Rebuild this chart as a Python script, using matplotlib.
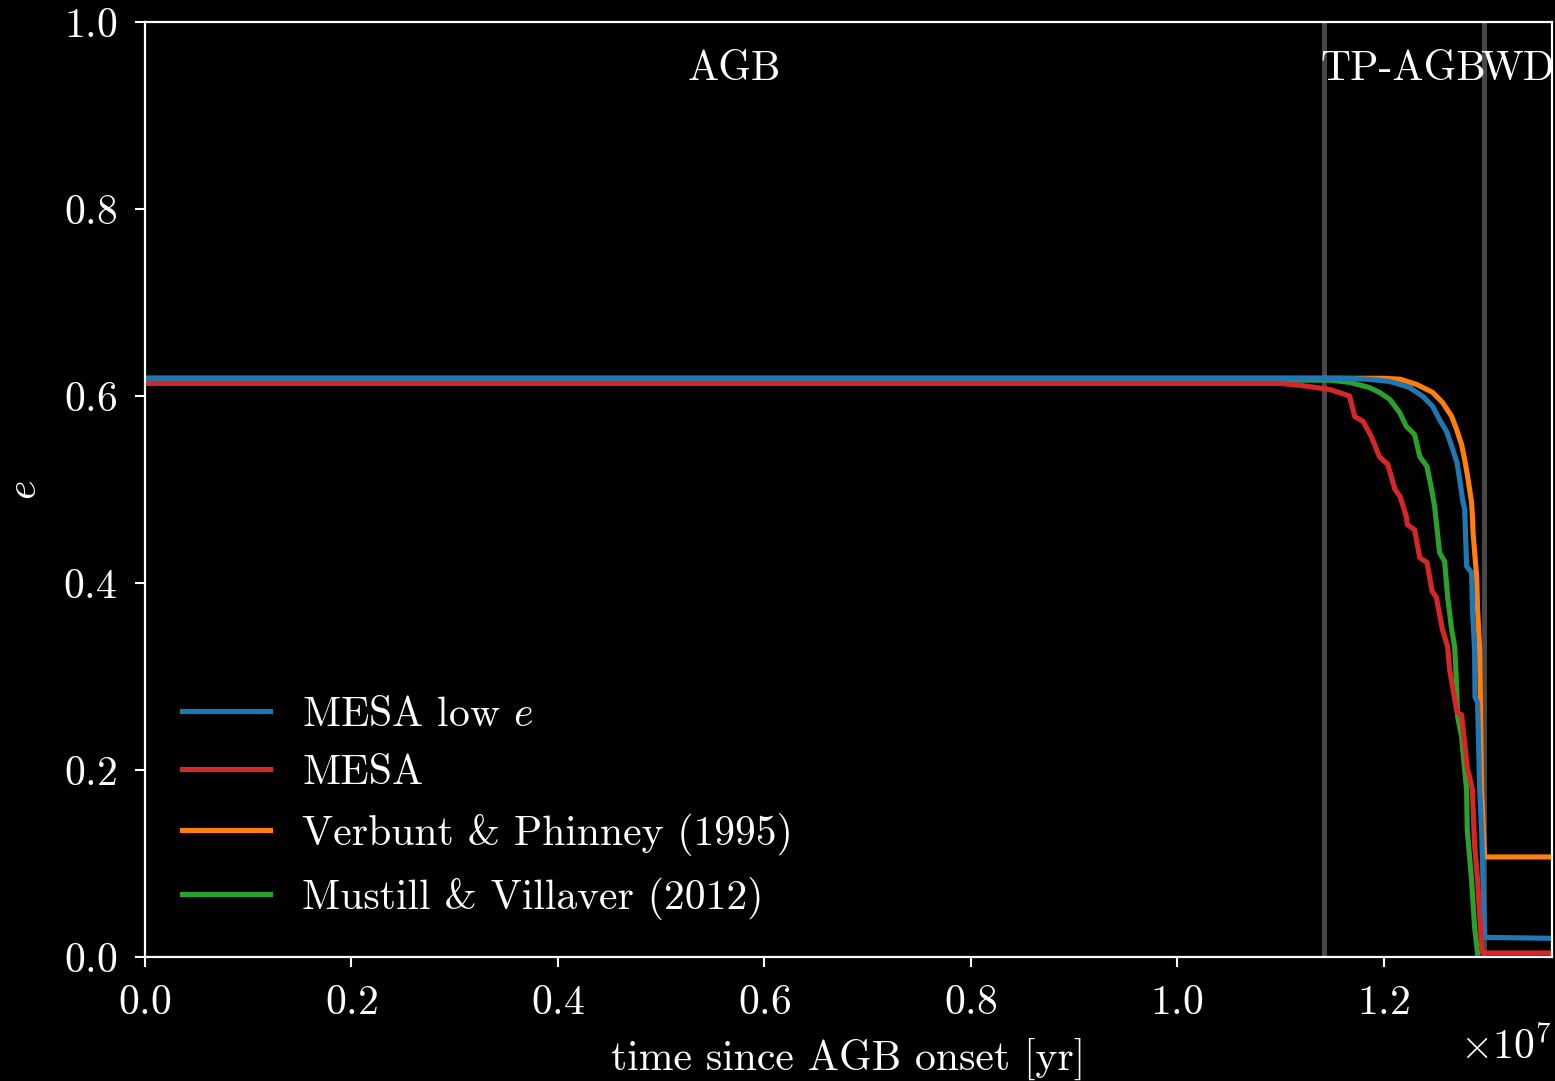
import matplotlib
matplotlib.use("Agg")
import matplotlib.pyplot as plt
import numpy as np

plt.rcParams['font.family'] = ['cmr10', 'DejaVu Serif']
plt.rcParams['mathtext.fontset'] = 'cm'
plt.rcParams['axes.formatter.use_mathtext'] = True
plt.rcParams['font.size'] = 30

# times in Myr, eccentricity e
t_mesa_low_e = [0.0, 11.6, 11.84, 12.06, 12.25, 12.38, 12.475, 12.54, 12.61, 12.66, 12.71,
                12.736, 12.765, 12.785, 12.804, 12.852, 12.862, 12.881, 12.885, 12.910,
                12.930, 12.949, 12.978, 13.63]
e_mesa_low_e = [0.619, 0.619, 0.618, 0.6156, 0.6092, 0.5996, 0.5889, 0.575, 0.5621, 0.546, 0.529,
                0.511, 0.489, 0.479, 0.418, 0.411, 0.368, 0.329, 0.278, 0.272,
                0.179, 0.136, 0.021, 0.020]

t_mesa = [0.0, 11.0, 11.19, 11.48, 11.67, 11.72, 11.80, 11.88, 11.96, 12.04, 12.11, 12.16,
          12.22, 12.23, 12.30, 12.35, 12.42, 12.47, 12.51, 12.57, 12.62, 12.64, 12.71,
          12.755, 12.81, 12.86, 12.88, 12.91, 12.95, 12.96, 13.63]
e_mesa = [0.6135, 0.6135, 0.6115, 0.607, 0.600, 0.578, 0.573, 0.557, 0.535, 0.527, 0.500, 0.4925,
          0.471, 0.4625, 0.457, 0.427, 0.422, 0.391, 0.385, 0.350, 0.332, 0.307, 0.262,
          0.259, 0.203, 0.179, 0.122, 0.082, 0.0096, 0.0043, 0.0043]

t_vp95 = [0.0, 12.0, 12.16, 12.32, 12.475, 12.571, 12.659, 12.707, 12.755, 12.785, 12.814,
          12.852, 12.862, 12.866, 12.901, 12.910, 12.930, 12.949, 12.978, 13.63]
e_vp95 = [0.619, 0.619, 0.618, 0.6124, 0.6039, 0.5931, 0.5782, 0.5642, 0.5482, 0.5321, 0.5139,
          0.4861, 0.468, 0.454, 0.407, 0.372, 0.329, 0.179, 0.107, 0.107]

t_mv12 = [0.0, 11.48, 11.67, 11.86, 11.96, 12.06, 12.155, 12.22, 12.30, 12.35, 12.42, 12.465,
          12.494, 12.542, 12.591, 12.62, 12.659, 12.688, 12.70, 12.717, 12.755, 12.804,
          12.81, 12.852, 12.881, 12.910]
e_mv12 = [0.617, 0.617, 0.6146, 0.6092, 0.6039, 0.5964, 0.5824, 0.5675, 0.5589, 0.5353, 0.5246, 0.500,
          0.4818, 0.4325, 0.4229, 0.3854, 0.3501, 0.3319, 0.307, 0.257, 0.2355, 0.1788,
          0.136, 0.082, 0.032, 0.004]

# phase boundaries (Myr) and names
phase_edges = [0.0, 11.42, 12.97, 13.63]
phase_names = ['AGB', 'TP-AGB', 'WD']

fig = plt.figure(figsize=(15.55, 10.81), dpi=100, facecolor='black')
ax = fig.add_axes([0.0932, 0.1147, 0.9048, 0.8649])
ax.set_facecolor('black')

for edge in phase_edges[1:-1]:
    ax.axvline(edge * 1e6, color='0.28', lw=3.6, zorder=1)

for i, name in enumerate(phase_names):
    mid = 0.5 * (phase_edges[i] + phase_edges[i + 1]) * 1e6
    ax.text(mid, 0.95, name, color='white', ha='center', va='center', fontsize=30)

lw = 3.7
l_vp, = ax.plot(np.array(t_vp95) * 1e6, e_vp95, color='#ff7f0e', lw=lw, zorder=2)
l_mv, = ax.plot(np.array(t_mv12) * 1e6, e_mv12, color='#2ca02c', lw=lw, zorder=2)
l_low, = ax.plot(np.array(t_mesa_low_e) * 1e6, e_mesa_low_e, color='#1f77b4', lw=lw, zorder=2)
l_mesa, = ax.plot(np.array(t_mesa) * 1e6, e_mesa, color='#d62728', lw=lw, zorder=2)

ax.set_xlim(0, 13.63e6)
ax.set_ylim(0, 1.0)

for s in ax.spines.values():
    s.set_color('white')
    s.set_linewidth(1.6)
ax.tick_params(colors='white', labelsize=30, length=7, width=1.5, pad=13)
ax.xaxis.get_offset_text().set_color('white')
ax.xaxis.get_offset_text().set_fontsize(30)

ax.set_xlabel('time since AGB onset [yr]', color='white', fontsize=30, labelpad=11)
ax.set_ylabel('$e$', color='white', fontsize=30, labelpad=14)

leg = ax.legend([l_low, l_mesa, l_vp, l_mv],
                ['MESA low $e$', 'MESA', 'Verbunt & Phinney (1995)', 'Mustill & Villaver (2012)'],
                loc='lower left', frameon=False, fontsize=30, handlelength=2.1,
                handletextpad=0.78, labelspacing=0.5, borderaxespad=0.5)
for txt in leg.get_texts():
    txt.set_color('white')

fig.savefig('out.png', dpi=100, facecolor='black')
